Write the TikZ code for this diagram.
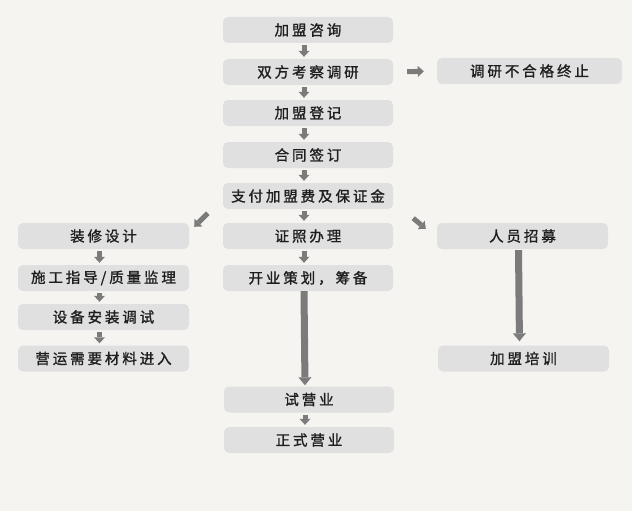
\documentclass[tikz,border=0pt]{standalone}
\usepackage{fontspec}
\newfontfamily\cjk[LetterSpace=20,FakeBold=1.2]{Noto Sans CJK SC}
\usepackage{tikz}
\usetikzlibrary{arrows.meta,positioning}
\definecolor{bgpaper}{HTML}{F5F4F0}
\definecolor{boxgray}{HTML}{E0E0E0}
\definecolor{arrowgray}{HTML}{7B7B7B}
\definecolor{inkgray}{HTML}{1E1E1E}

\begin{document}
\begin{tikzpicture}[x=1pt,y=-1pt,
  box/.style={fill=boxgray,rounded corners=5pt,minimum height=26pt,minimum width=171pt,
    inner sep=0pt,text=inkgray,font=\cjk\fontsize{14.5}{16}\selectfont},
  flow/.style={draw=arrowgray,line width=5pt,
    -{Triangle[width=11pt,length=6pt,line width=0pt,fill=arrowgray]}},
  longflow/.style={draw=arrowgray,line width=7pt,
    -{Triangle[width=13pt,length=8pt,line width=0pt,fill=arrowgray]}}]
  \fill[bgpaper] (0,0) rectangle (632,511);
  \useasboundingbox (0,0) rectangle (632,511);
  % main column
  \node[box,minimum width=170pt] (consult) at (308,30) {加盟咨询};
  \node[box,minimum width=170pt] (survey) at (308,72) {双方考察调研};
  \node[box,minimum width=170pt] (register) at (308,113) {加盟登记};
  \node[box,minimum width=170pt] (contract) at (308,155) {合同签订};
  \node[box,minimum width=170pt] (pay) at (308,196) {支付加盟费及保证金};
  \node[box,minimum width=170pt] (license) at (308,236) {证照办理};
  \node[box,minimum width=170pt] (plan) at (308,278) {开业策划，筹备};
  \node[box,minimum width=170pt] (trial) at (309,399.5) {试营业};
  \node[box,minimum width=170pt] (open) at (309,440) {正式营业};
  % side boxes
  \node[box,minimum width=185pt] (fail) at (529.5,71) {调研不合格终止};
  \node[box] (decor) at (103.5,236) {装修设计};
  \node[box] (build) at (103.5,278) {施工指导/质量监理};
  \node[box] (equip) at (103.5,317) {设备安装调试};
  \node[box] (supply) at (103.5,358.5) {营运需要材料进入};
  \node[box] (hire) at (522.5,236) {人员招募};
  \node[box] (train) at (523.5,358.5) {加盟培训};
  % arrows
  \foreach \a/\b in {consult/survey,survey/register,register/contract,contract/pay,
      pay/license,license/plan,trial/open,decor/build,build/equip,equip/supply}
    \draw[flow,shorten <=2pt,shorten >=2pt] ([xshift=-4pt]\a.south) -- ([xshift=-4pt]\b.north);
  \draw[flow,shorten <=14pt,shorten >=13pt] (survey.east) -- (fail.west);
  \draw[flow] ([shift={(-15,4)}]pay.south west) -- ([shift={(5,4)}]decor.north east);
  \draw[flow] ([shift={(20,9)}]pay.south east) -- ([shift={(-11,6)}]hire.north west);
  \draw[longflow,shorten >=1pt] ([xshift=-4pt]plan.south) -- ([xshift=-4pt]trial.north);
  \draw[longflow,shorten <=1pt,shorten >=4pt] ([xshift=-4pt]hire.south) -- ([xshift=-4pt]train.north);
\end{tikzpicture}
\end{document}
